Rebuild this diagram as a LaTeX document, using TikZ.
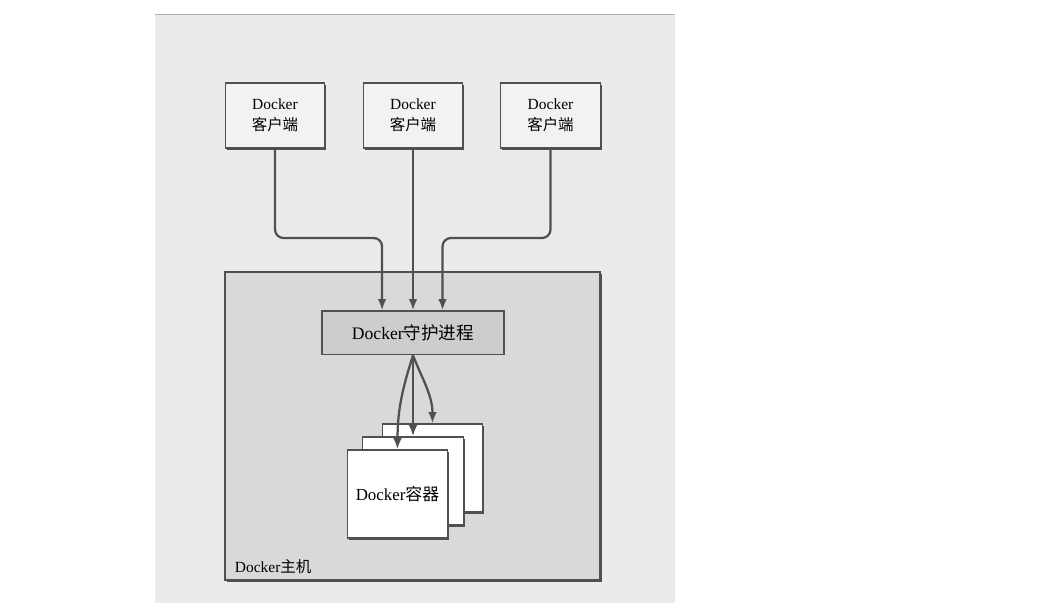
\documentclass[tikz,border=0pt]{standalone}
\usepackage{fontspec}
\setmainfont{Liberation Serif}
\newfontfamily\cjk{Noto Sans CJK SC}
\newcommand{\zh}[1]{{\cjk #1}}
\usetikzlibrary{arrows.meta,shadows}

\definecolor{paper}{HTML}{EBEBEB}
\definecolor{hostgray}{HTML}{D9D9D9}
\definecolor{clientgray}{HTML}{F2F2F2}
\definecolor{daemongray}{HTML}{CDCDCD}
\definecolor{ink}{HTML}{505050}

\tikzset{
  boxshadow/.style={drop shadow={shadow xshift=1.2pt,shadow yshift=-1.5pt,fill=ink,opacity=1}},
  clientbox/.style={draw=ink,line width=1pt,fill=clientgray,minimum width=70.8pt,minimum height=46pt,
    align=center,font=\fontsize{11}{15}\selectfont,boxshadow},
  daemonbox/.style={draw=ink,line width=1pt,fill=daemongray,minimum width=129.6pt,minimum height=31pt,
    font=\fontsize{12.5}{15}\selectfont},
  ctrbox/.style={draw=ink,line width=1pt,fill=white,minimum width=71.5pt,minimum height=62.3pt,
    font=\fontsize{12}{15}\selectfont,boxshadow},
  flow/.style={->,draw=ink,line width=1.6pt},
}

\begin{document}
\begin{tikzpicture}[x=0.025cm,y=-0.025cm,>={Latex[length=8pt,width=6pt]}]

\useasboundingbox (0,0) rectangle (1051,615);
\fill[white] (0,0) rectangle (1051,615);
\fill[paper] (155,14) rectangle (675,603);
\draw[gray!60] (155,14) -- (675,14);

% host
\draw[draw=ink,fill=hostgray,line width=1.1pt,boxshadow] (225,272) rectangle (600,580);
\node[anchor=south west,font=\fontsize{11}{14}\selectfont] (hostlbl) at (230,579) {Docker\zh{主机}};

% clients
\node[clientbox] (cl1) at (275,115.5) {Docker\\\zh{客户端}};
\node[clientbox] (cl2) at (413,115.5) {Docker\\\zh{客户端}};
\node[clientbox] (cl3) at (550.5,115.5) {Docker\\\zh{客户端}};

% daemon
\node[daemonbox] (dmn) at (413,333) {Docker\zh{守护进程}};

% containers
\node[ctrbox] (ctr3) at (432.5,468) {};
\node[ctrbox] (ctr2) at (413,481) {};
\node[ctrbox] (ctr1) at (397.5,494) {Docker\zh{容器}};

% clients -> daemon
\draw[flow,rounded corners=6pt] (cl1.south) -- (275,238) -| ([xshift=-22pt]dmn.north);
\draw[flow] (cl2.south) -- (dmn.north);
\draw[flow,rounded corners=6pt] (cl3.south) -- (550.5,238) -| ([xshift=21pt]dmn.north);

% daemon -> containers
\draw[flow] (dmn.south) to[out=-108,in=90] (ctr1.north);
\draw[flow] (dmn.south) -- (ctr2.north);
\draw[flow] (dmn.south) to[out=-68,in=90] (ctr3.north);

\end{tikzpicture}
\end{document}
